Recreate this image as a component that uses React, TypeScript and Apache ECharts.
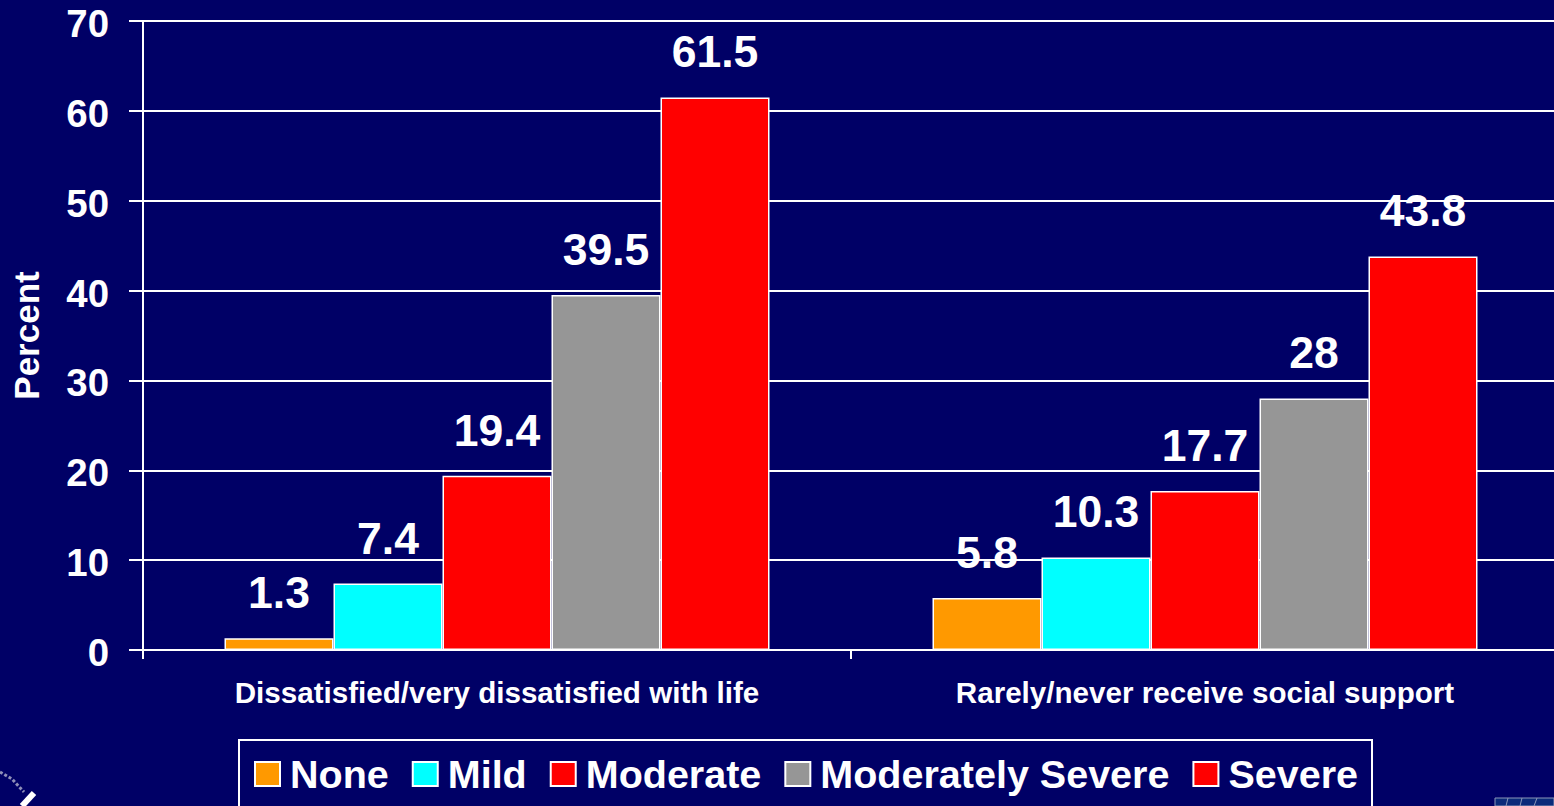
import React, { useEffect, useRef } from "react";
import * as echarts from "echarts";

const categories = ["Dissatisfied/very dissatisfied with life", "Rarely/never receive social support"];
const none = [1.3, 5.8];
const mild = [7.4, 10.3];
const moderate = [19.4, 17.7];
const moderatelySevere = [39.5, 28];
const severe = [61.5, 43.8];
const seriesNames = ["None", "Mild", "Moderate", "Moderately Severe", "Severe"];
const seriesValues = [none, mild, moderate, moderatelySevere, severe];
const seriesColors = ["#FF9900", "#00FFFF", "#FF0000", "#969696", "#FF0000"];

const BG = "#000066";
const FONT = "'Liberation Sans', Arial, sans-serif";

export default function App() {
  const ref = useRef<HTMLDivElement>(null);
  useEffect(() => {
    document.body.style.margin = "0";
    document.body.style.overflow = "hidden";
    document.body.style.background = BG;
    const chart = echarts.init(ref.current!, null, { renderer: "svg" });
    chart.setOption({
      animation: false,
      backgroundColor: BG,
      textStyle: { fontFamily: FONT },
      grid: { left: 143, top: 21, width: 1416, height: 629, containLabel: false, outerBoundsMode: "none" },
      legend: {
        left: 239,
        top: 740,
        orient: "horizontal",
        padding: [14, 14, 15, 15],
        itemGap: 23,
        itemWidth: 25,
        itemHeight: 24,
        borderColor: "#FFFFFF",
        borderWidth: 2,
        backgroundColor: BG,
        icon: "rect",
        selectedMode: false,
        data: seriesNames,
        textStyle: { color: "#FFFFFF", fontSize: 39.5, fontWeight: "bold", fontFamily: FONT, padding: [0, 0, 4, 5] },
      },
      xAxis: {
        type: "category",
        data: categories,
        axisLine: { lineStyle: { color: "#FFFFFF", width: 2 } },
        axisTick: { show: true, length: 9, lineStyle: { color: "#FFFFFF", width: 2 } },
        axisLabel: { color: "#FFFFFF", fontSize: 29.6, fontWeight: "bold", fontFamily: FONT, margin: 27, interval: 0 },
      },
      yAxis: {
        type: "value",
        min: 0,
        max: 70,
        interval: 10,
        name: "Percent",
        nameLocation: "middle",
        nameGap: 99,
        nameRotate: 90,
        nameTextStyle: { color: "#FFFFFF", fontSize: 35, fontWeight: "bold", fontFamily: FONT },
        axisLine: { show: true, lineStyle: { color: "#FFFFFF", width: 2 } },
        axisTick: { show: true, length: 14, lineStyle: { color: "#FFFFFF", width: 2 } },
        axisLabel: {
          margin: 34,
          formatter: "{a|{value}}",
          rich: { a: { color: "#FFFFFF", fontSize: 38.4, fontWeight: "bold", fontFamily: FONT, padding: [5, 0, 0, 0] } },
        },
        splitLine: { show: true, lineStyle: { color: "#FFFFFF", width: 2 } },
      },
      series: seriesNames.map((name, i) => ({
        name,
        type: "bar",
        data: seriesValues[i],
        barWidth: 109,
        barGap: "0%",
        itemStyle: { color: seriesColors[i], borderColor: "#FFFFFF", borderWidth: 1.5 },
        label: {
          show: true,
          position: "top",
          distance: 23,
          color: "#FFFFFF",
          fontSize: 44.5,
          fontWeight: "bold",
          fontFamily: FONT,
        },
      })),
      graphic: [
        {
          type: "group",
          silent: true,
          children: [
            { type: "polyline", shape: { points: [[22, 806], [34, 793]] }, style: { stroke: "#FFFFFF", lineWidth: 6, fill: "none" } },
            { type: "polyline", shape: { points: [[0, 772], [12, 779], [24, 792]] }, style: { stroke: "#8F8FB8", lineWidth: 3, lineDash: [3, 2], fill: "none" } },
            { type: "rect", shape: { x: 1495, y: 798, width: 59, height: 8 }, style: { fill: "#0A2A7A", stroke: "#8A96B8", lineWidth: 1 } },
            { type: "line", shape: { x1: 1508, y1: 798, x2: 1506, y2: 806 }, style: { stroke: "#8A96B8", lineWidth: 1 } },
            { type: "line", shape: { x1: 1522, y1: 798, x2: 1520, y2: 806 }, style: { stroke: "#8A96B8", lineWidth: 1 } },
            { type: "line", shape: { x1: 1537, y1: 798, x2: 1534, y2: 806 }, style: { stroke: "#8A96B8", lineWidth: 1 } },
          ],
        },
      ],
    });
    return () => chart.dispose();
  }, []);
  return (
    <div style={{ width: 1554, height: 806, overflow: "hidden" }}>
      <div ref={ref} style={{ width: 1560, height: 806 }} />
    </div>
  );
}
